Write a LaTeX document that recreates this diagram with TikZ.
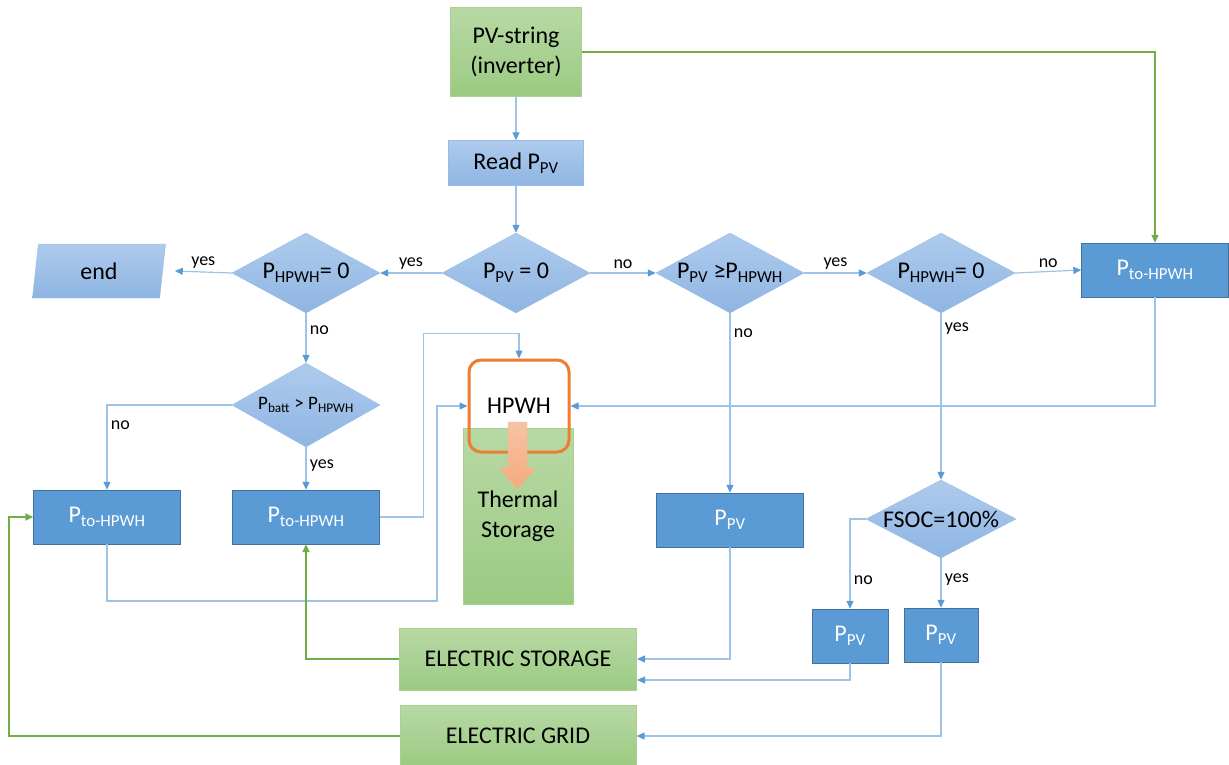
\documentclass[tikz,border=0pt]{standalone}
\usepackage{fontspec}
\setmainfont{Carlito}
\usetikzlibrary{arrows.meta,shapes.geometric}

\definecolor{lineblue}{RGB}{157,195,230}
\definecolor{tipblue}{RGB}{91,155,213}
\definecolor{boxblue}{RGB}{91,155,213}
\definecolor{boxblueedge}{RGB}{65,113,156}
\definecolor{decbluetop}{RGB}{174,203,237}
\definecolor{decbluebot}{RGB}{143,181,227}
\definecolor{decblueedge}{RGB}{150,188,230}
\definecolor{greentop}{RGB}{184,217,165}
\definecolor{greenbot}{RGB}{155,202,130}
\definecolor{greenedge}{RGB}{169,209,142}
\definecolor{greenline}{RGB}{112,173,71}
\definecolor{hpwhorange}{RGB}{237,125,49}
\definecolor{salmon}{RGB}{244,170,125}

\newcommand{\Psub}[1]{P\textsubscript{#1}}

\begin{document}
\begin{tikzpicture}[x=1pt,y=-1pt,font=\fontsize{24}{30}\selectfont,
	flow/.style={draw=lineblue,line width=1.2pt,-{Triangle[length=8pt,width=7pt,color=tipblue]}},
	feed/.style={draw=greenline,line width=2pt,-{Triangle[length=8pt,width=7pt]}},
	lbl/.style={font=\fontsize{18}{20}\selectfont},
	dec/.style={diamond,draw=decblueedge,top color=decbluetop,bottom color=decbluebot,
		inner sep=0pt,minimum width=148pt,minimum height=80pt},
	outbox/.style={rectangle,draw=boxblueedge,fill=boxblue,text=white,
		minimum width=147pt,minimum height=54pt},
	srcbox/.style={rectangle,draw=greenedge,top color=greentop,bottom color=greenbot,line width=1pt}]
	\useasboundingbox (0,0) rectangle (1229,764);

	% sources and reading
	\node[srcbox,minimum width=131pt,minimum height=89pt,align=center] (pv) at (516,52) {PV-string\\(inverter)};
	\node[rectangle,draw=decblueedge,top color=decbluetop,bottom color=decbluebot,
		minimum width=135pt,minimum height=45pt] (read) at (516,163) {Read \Psub{PV}};

	% decisions
	\node[dec] (ppvzero) at (516,273) {\makebox[0pt]{\Psub{PV} = 0}};
	\node[dec] (hpwhl) at (306,273) {\makebox[0pt]{\Psub{HPWH}= 0}};
	\node[dec] (ppvge) at (730,273) {\makebox[0pt]{\Psub{PV} ≥\Psub{HPWH}}};
	\node[dec] (hpwhr) at (941,273) {\makebox[0pt]{\Psub{HPWH}= 0}};
	\node[dec,minimum height=84pt] (batt) at (306,405)
		{\makebox[0pt]{\fontsize{19}{22}\selectfont\Psub{batt} > \Psub{HPWH}}};
	\node[dec,minimum width=150pt,minimum height=78pt] (fsoc) at (941,519) {\makebox[0pt]{FSOC=100\%}};
	\node[trapezium,trapezium left angle=76,trapezium right angle=104,trapezium stretches body,
		draw=decblueedge,top color=decbluetop,bottom color=decbluebot,
		minimum width=133pt,minimum height=54pt] (endn) at (99,271) {end};

	% power to the heater
	\node[outbox] (tol) at (107,517) {\Psub{to-HPWH}};
	\node[outbox] (tom) at (306,517) {\Psub{to-HPWH}};
	\node[outbox] (tor) at (1155,270) {\Psub{to-HPWH}};
	\node[outbox] (ppvbox) at (730,520) {\Psub{PV}};
	\node[outbox,minimum width=76pt] (ppvno) at (850,636) {\Psub{PV}};
	\node[outbox,minimum width=74pt] (ppvyes) at (941,635) {\Psub{PV}};

	% storage and grid
	\node[srcbox,minimum width=110pt,minimum height=176pt,align=center] (thermal) at (518,516) {Thermal\\Storage};
	\node[draw=hpwhorange,line width=3pt,rounded corners=12pt,
		minimum width=100pt,minimum height=92pt] (hpwh) at (519,406) {HPWH};
	\shade[top color=salmon!70,bottom color=salmon,draw=salmon!85!white]
		(508,422) -- (527,422) -- (527,468) -- (536,468) -- (517.5,489) -- (499,468) -- (508,468) -- cycle;
	\node[srcbox,minimum width=237pt,minimum height=62pt] (estor) at (518,659) {ELECTRIC STORAGE};
	\node[srcbox,minimum width=236pt,minimum height=62pt] (egrid) at (518,736) {ELECTRIC GRID};

	% connectors
	\draw[flow] (pv) -- (read);
	\draw[flow] (read) -- (ppvzero);
	\draw[flow] (ppvzero.west) -- node[lbl,above]{yes} (hpwhl.east);
	\draw[flow] (hpwhl.west) -- node[lbl,above]{yes} ([xshift=12pt]endn.east);
	\draw[flow] (hpwhl.south) -- node[lbl,right,pos=0.35]{no} (batt.north);
	\draw[flow] (batt.west) -| node[lbl,right,pos=0.62]{no} (tol.north);
	\draw[flow] (batt.south) -- node[lbl,right,pos=0.42]{yes} (tom.north);
	\draw[flow] (tom.east) -- ++(44,0) |- ([yshift=25pt]hpwh.north) -- (hpwh.north);
	\draw[flow] (tol.south) |- (437,601) |- (hpwh.west);
	\draw[flow] (tor.south) |- (hpwh.east);
	\draw[flow] (ppvzero.east) -- node[lbl,above]{no} (ppvge.west);
	\draw[flow] (ppvge.east) -- node[lbl,above]{yes} (hpwhr.west);
	\draw[flow] (hpwhr.east) -- node[lbl,above]{no} (tor.west);
	\draw[flow] (ppvge.south) -- node[lbl,right,pos=0.11]{no} (ppvbox.north);
	\draw[flow] (hpwhr.south) -- node[lbl,right,pos=0.09]{yes} (fsoc.north);
	\draw[flow] (fsoc.west) -| node[lbl,right,pos=0.84]{no} (ppvno.north);
	\draw[flow] (fsoc.south) -- node[lbl,right,pos=0.44]{yes} (ppvyes.north);
	\draw[flow] (ppvbox.south) |- (estor.east);
	\draw[flow] (ppvno.south) |- ([yshift=-21pt]estor.east);
	\draw[flow] (ppvyes.south) |- (egrid.east);
	\draw[feed] (pv.east) -| (tor.north);
	\draw[feed] (estor.west) -| (tom.south);
	\draw[feed] (egrid.west) -- ++(-391,0) |- (tol.west);
\end{tikzpicture}
\end{document}
